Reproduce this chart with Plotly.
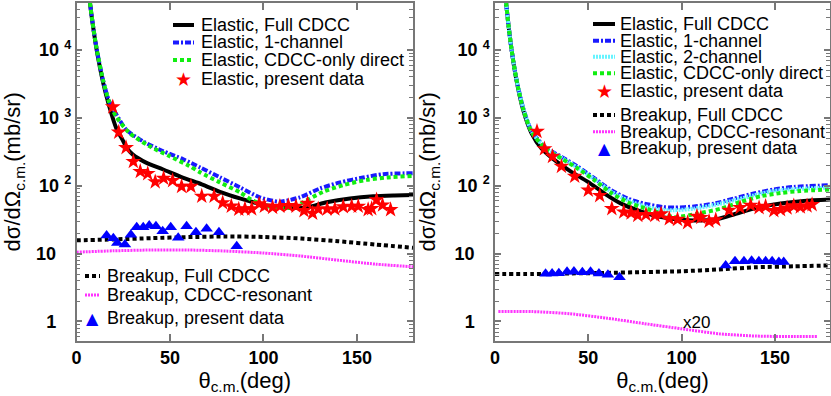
import plotly.graph_objects as go

FONT = "Liberation Sans, Arial, sans-serif"
SYMFONT = "DejaVu Sans, sans-serif"
FRAME = "#777777"

# ---------------- Left panel data ----------------
L_el_full_th = [6, 7.2, 8.5, 10.8, 14.3, 17.5, 21.3, 24.7, 26.8, 30, 37.2, 46.1, 56.8, 67, 77.5, 87.4, 94.6, 101.7, 110.6, 123, 133.8, 146.3, 158.7, 170, 180]
L_el_full_v = [100000, 50000, 26000, 10000, 3250, 1480, 700, 470, 363, 290, 219, 175, 132, 105, 80, 65, 57, 51, 48, 48, 57, 65, 70, 72, 73]

L_el_1ch_th = [6, 7.2, 8.5, 10.8, 14.3, 17.5, 21.1, 26.5, 35.4, 46.1, 57.1, 66.2, 76.7, 87.4, 98, 108.7, 119.5, 130.2, 140.9, 153.4, 164.1, 180]
L_el_1ch_v = [100000, 50000, 26500, 10300, 3500, 1750, 1150, 674, 454, 325, 245, 186, 133, 95, 67.6, 58.3, 67.6, 91, 112, 132, 148, 153]

L_el_dir_th = [6, 7.2, 8.5, 10.8, 14.3, 17.5, 21.1, 28.2, 38.9, 49.6, 60.3, 66.2, 76.7, 87.4, 94.6, 105.2, 116, 121.2, 132, 142.7, 155.2, 165.9, 180]
L_el_dir_v = [100000, 50000, 26500, 10300, 3500, 1700, 1057, 603, 384, 274, 196, 157, 112, 80, 60, 48, 48, 57, 81.5, 102, 122, 132, 140]

L_el_data_th = [19.4, 22.6, 26.5, 30.4, 34.1, 38.1, 42.1, 46.6, 51.4, 56.2, 61.2, 67.0, 73.6, 78.2, 82.8, 86.8, 90.1, 93.7, 97.7, 100.5, 104.9, 108.8, 113.3, 117.4, 121.7, 123.6, 126.3, 129.3, 134.1, 138.2, 142.7, 147.2, 150.7, 156, 157.9, 160.5, 163.7, 168]
L_el_data_v = [1449, 615, 364, 227, 162, 151, 114, 129, 119, 97.7, 97.7, 70, 70, 56, 50, 45, 45.5, 45.5, 54, 50, 48, 49.8, 51, 49.8, 42.9, 55, 39.3, 45.4, 45.4, 45.4, 49, 49.8, 49.8, 44.4, 46, 62, 52, 44.4]

L_bu_full_th = [0, 20, 40, 60, 80, 100, 120, 140, 160, 180]
L_bu_full_v = [15.7, 16.2, 16.9, 17.5, 17.9, 17.6, 16.7, 15.2, 13.6, 12.2]

L_bu_res_th = [0, 20, 40, 60, 80, 100, 120, 140, 160, 180]
L_bu_res_v = [10.5, 11.0, 11.3, 11.3, 10.9, 10.2, 9.2, 8.0, 7.0, 6.4]

L_bu_data_th = [16.1, 19.7, 21.8, 25.9, 29.1, 32.2, 35.7, 38.9, 42.5, 46.1, 50.4, 54.4, 58.9, 63.9, 69.6, 76.2, 85.7]
L_bu_data_v = [18.5, 16.9, 14.3, 13.6, 18.9, 24.5, 24.5, 25.9, 25.4, 21.4, 24.5, 17.1, 25.4, 20.7, 23.2, 20.7, 12.8]

# ---------------- Right panel data ----------------
R_el_full_th = [5, 6, 7.2, 8.9, 11.5, 15.1, 19.6, 24.9, 32, 40.9, 49.8, 58.7, 67.6, 76.5, 89, 103.2, 117.4, 126.3, 138.7, 153, 165.4, 179.5]
R_el_full_v = [100000, 48000, 23500, 10000, 3600, 1303, 590, 354, 238, 160, 114, 76.6, 54.5, 43.5, 34.6, 31, 31.5, 36.6, 46, 54.6, 59.6, 62.5]

R_el_1ch_th = [5, 6, 7.2, 8.9, 11.5, 15.1, 19.6, 26.7, 35.6, 44.5, 53.4, 62.3, 71.1, 80, 89.8, 96, 106.7, 117.4, 128.1, 138.7, 149.4, 160.1, 179.5]
R_el_1ch_v = [100000, 48000, 23500, 10000, 3700, 1400, 640, 374, 266, 190, 128, 86, 64.7, 54.6, 48.6, 47.6, 49.5, 54.6, 64.7, 76.7, 88, 96, 101.7]

R_el_2ch_th = [5, 6, 7.2, 8.9, 11.5, 15.1, 19.6, 26.7, 35.6, 44.5, 53.4, 62.3, 71.1, 80, 89.8, 96, 106.7, 117.4, 128.1, 138.7, 149.4, 160.1, 179.5]
R_el_2ch_v = [100000, 48000, 23500, 10000, 3650, 1380, 630, 365, 258, 183, 124, 82, 61, 50, 44, 43.5, 46, 52, 61, 72, 83.8, 89, 94]

R_el_dir_th = [5, 6, 7.2, 8.9, 11.5, 15.1, 19.6, 26.7, 35.6, 44.5, 53.4, 62.3, 71.1, 80, 89.8, 96, 108.5, 121, 131.6, 142.3, 153, 163.6, 179.5]
R_el_dir_v = [100000, 48000, 23500, 10000, 3650, 1350, 620, 360, 252, 178, 120, 78, 57, 47, 38.5, 34.5, 38.8, 46, 57.7, 70, 78, 83.8, 88]

R_el_data_th = [22.5, 26.5, 30.8, 35.6, 42.7, 50, 56.1, 62.6, 69, 72.9, 76.5, 80.9, 85.7, 89, 93.4, 97.8, 103.2, 108.2, 110.3, 114.7, 118.3, 125.4, 131.3, 137, 141.5, 145, 149.4, 153, 156.5, 160.1, 163.6, 167.2, 169.9]
R_el_data_v = [630, 350, 270, 193, 138, 86, 71.5, 46, 41, 39.7, 36.6, 37.5, 36.6, 38.4, 32.7, 31.9, 28.6, 35.5, 34, 29.9, 31.5, 43.5, 47.6, 51.5, 47.6, 49.5, 43, 44.5, 47, 50.4, 48.6, 50.4, 52.7]

R_bu_full_th = [0, 20, 40, 60, 80, 100, 120, 140, 160, 180]
R_bu_full_v = [5.0, 5.0, 5.1, 5.2, 5.35, 5.5, 5.85, 6.3, 6.5, 6.7]

R_bu_res_th = [1.8, 20, 40, 60, 80, 100, 120, 140, 160, 172.5]
R_bu_res_v = [1.40, 1.40, 1.30, 1.12, 0.93, 0.78, 0.66, 0.61, 0.60, 0.60]

R_bu_data_th = [27.1, 30.6, 34.2, 38.6, 42.3, 46.8, 51.2, 55.7, 60.5, 66.7, 123.6, 128.6, 133.4, 137.5, 141.4, 145, 148.5, 152.1, 154.7]
R_bu_data_v = [5.05, 5.1, 5.15, 5.4, 5.45, 5.3, 5.4, 5.1, 4.87, 4.5, 6.7, 7.75, 7.7, 7.85, 7.7, 7.7, 7.75, 7.55, 7.55]

Y_TICKS = [1, 10, 100, 1000, 10000]
NB = "\u00a0"
Y_TICKTEXT = ["1" + NB * 3, "10" + NB * 3, "10 <sup>2</sup>", "10 <sup>3</sup>", "10 <sup>4</sup>"]
X_TICKS = [0, 50, 100, 150]
Y_MINOR = [m * 10 ** e for e in range(-1, 5) for m in range(2, 10)]

W, H = 831, 396

BLACK = "#000000"
BLUE = "#1a1aff"
GREEN = "#11ee11"
CYAN = "#66f4ff"
MAGENTA = "#ff33ff"
RED = "#ff0000"
TRI = "#0000ff"

STY = {
    "el_full": ("line", BLACK, 4, "solid"),
    "el_1ch": ("line", BLUE, 4, "6px,2px,2px,2px"),
    "el_2ch": ("line", CYAN, 4, "2px,1px"),
    "el_dir": ("line", GREEN, 4, "4px,3px"),
    "el_data": ("star", RED, 0, ""),
    "bu_full": ("line", BLACK, 4, "4px,3px"),
    "bu_res": ("line", MAGENTA, 3, "2px,1px"),
    "bu_data": ("tri", TRI, 0, ""),
}
NAMES = {
    "el_full": "Elastic, Full CDCC",
    "el_1ch": "Elastic, 1-channel",
    "el_2ch": "Elastic, 2-channel",
    "el_dir": "Elastic, CDCC-only direct",
    "el_data": "Elastic, present data",
    "bu_full": "Breakup, Full CDCC",
    "bu_res": "Breakup, CDCC-resonant",
    "bu_data": "Breakup, present data",
}

# legend blocks: (keys, row centres px, sample x0, sample x1, text x)
LEGENDS = [
    (["el_full", "el_1ch", "el_dir", "el_data"], [25, 42.5, 60, 79.5], 173, 194, 199),
    (["bu_full", "bu_res", "bu_data"], [276, 295, 318], 85, 100, 105),
    (["el_full", "el_1ch", "el_2ch", "el_dir", "el_data"], [24, 40.7, 56.7, 73.3, 90.7], 593, 615, 618),
    (["bu_full", "bu_res", "bu_data"], [115, 131.7, 148.3], 593, 615, 618),
]

fig = go.Figure()


def add_line(x, y, xa, ya, key):
    _, color, width, dash = STY[key]
    fig.add_trace(go.Scatter(
        x=x, y=y, xaxis=xa, yaxis=ya, mode="lines",
        line=dict(color=color, width=width, dash=dash, shape="spline", smoothing=0.7),
        name=NAMES[key], showlegend=False, hoverinfo="skip"))


def add_pts(x, y, xa, ya, key):
    kind, color, _, _ = STY[key]
    fig.add_trace(go.Scatter(
        x=x, y=y, xaxis=xa, yaxis=ya, mode="markers",
        marker=dict(color=color, symbol="star" if kind == "star" else "triangle-up",
                    size=12 if kind == "star" else 11, line=dict(width=0)),
        name=NAMES[key], showlegend=False, hoverinfo="skip"))


# Left panel
add_line(L_el_full_th, L_el_full_v, "x", "y", "el_full")
add_line(L_el_1ch_th, L_el_1ch_v, "x", "y", "el_1ch")
add_line(L_el_dir_th, L_el_dir_v, "x", "y", "el_dir")
add_pts(L_el_data_th, L_el_data_v, "x", "y", "el_data")
add_line(L_bu_full_th, L_bu_full_v, "x", "y", "bu_full")
add_line(L_bu_res_th, L_bu_res_v, "x", "y", "bu_res")
add_pts(L_bu_data_th, L_bu_data_v, "x", "y", "bu_data")

# Right panel
add_line(R_el_full_th, R_el_full_v, "x2", "y2", "el_full")
add_line(R_el_1ch_th, R_el_1ch_v, "x2", "y2", "el_1ch")
add_line(R_el_2ch_th, R_el_2ch_v, "x2", "y2", "el_2ch")
add_line(R_el_dir_th, R_el_dir_v, "x2", "y2", "el_dir")
add_pts(R_el_data_th, R_el_data_v, "x2", "y2", "el_data")
add_line(R_bu_full_th, R_bu_full_v, "x2", "y2", "bu_full")
add_line(R_bu_res_th, R_bu_res_v, "x2", "y2", "bu_res")
add_pts(R_bu_data_th, R_bu_data_v, "x2", "y2", "bu_data")

# Legends drawn as text + sample shapes
shapes = []
annotations = []
for keys, rows, sx0, sx1, tx in LEGENDS:
    for key, ry in zip(keys, rows):
        kind, color, width, dash = STY[key]
        yp = 1 - ry / H
        if kind == "line":
            shapes.append(dict(type="line", xref="paper", yref="paper",
                               x0=sx0 / W, x1=sx1 / W, y0=yp, y1=yp,
                               line=dict(color=color, width=width, dash=dash)))
        else:
            sym = "★" if kind == "star" else "▲"
            annotations.append(dict(text=sym, xref="paper", yref="paper",
                                    x=(sx0 + sx1) / 2 / W, y=yp, xanchor="center", yanchor="middle",
                                    showarrow=False,
                                    font=dict(family=SYMFONT, size=19 if kind == "star" else 16, color=color)))
        annotations.append(dict(text=NAMES[key], xref="paper", yref="paper",
                                x=tx / W, y=yp, xanchor="left", yanchor="middle",
                                showarrow=False,
                                font=dict(family=FONT, size=18, color="black")))

annotations.append(dict(text="x20", x=107.9, y=-0.012, xref="x2", yref="y2",
                        showarrow=False, font=dict(family=FONT, size=17, color="black")))


def xaxis(domain, rng, anchor):
    return dict(
        domain=domain, range=rng, anchor=anchor, automargin=False,
        tickmode="array", tickvals=X_TICKS, ticktext=[str(v) for v in X_TICKS],
        ticks="inside", ticklen=7, tickwidth=1.5, tickcolor=FRAME,
        showline=True, linecolor=FRAME, linewidth=1.5, mirror="allticks",
        showgrid=False, zeroline=False,
        tickfont=dict(family=FONT, size=18, color="black", weight="bold"),
        title=dict(text="θ<sub>c.m.</sub>(deg)", font=dict(family=FONT, size=22, color="black"), standoff=4),
    )


def yaxis(anchor):
    return dict(
        domain=[1 - 340.5 / H, 1 - 3 / H], anchor=anchor, type="log", automargin=False,
        range=[-0.28, 4.692],
        tickmode="array", tickvals=Y_TICKS, ticktext=Y_TICKTEXT,
        ticks="inside", ticklen=6, tickwidth=1.5, tickcolor=FRAME,
        minor=dict(tickmode="array", tickvals=Y_MINOR, ticks="inside", ticklen=4,
                   tickwidth=1, tickcolor=FRAME, showgrid=False),
        showline=True, linecolor=FRAME, linewidth=1.5, mirror="allticks",
        showgrid=False, zeroline=False,
        tickfont=dict(family=FONT, size=18, color="black", weight="bold"),
        title=dict(text="dσ/dΩ<sub>c.m.</sub>(mb/sr)", font=dict(family=FONT, size=22, color="black"), standoff=13),
    )


fig.update_layout(
    width=W, height=H,
    margin=dict(l=0, r=0, t=0, b=0),
    paper_bgcolor="white", plot_bgcolor="white",
    font=dict(family=FONT, color="black"),
    showlegend=False,
    xaxis=xaxis([76.5 / W, 413 / W], [0, 180], "y"),
    yaxis=yaxis("x"),
    xaxis2=xaxis([495 / W, 830 / W], [0, 179.5], "y2"),
    yaxis2=yaxis("x2"),
    shapes=shapes,
    annotations=annotations,
)

fig.write_html("out.html", config={"displayModeBar": False},
               post_script="document.body.style.margin='0';document.body.style.overflow='hidden';")
